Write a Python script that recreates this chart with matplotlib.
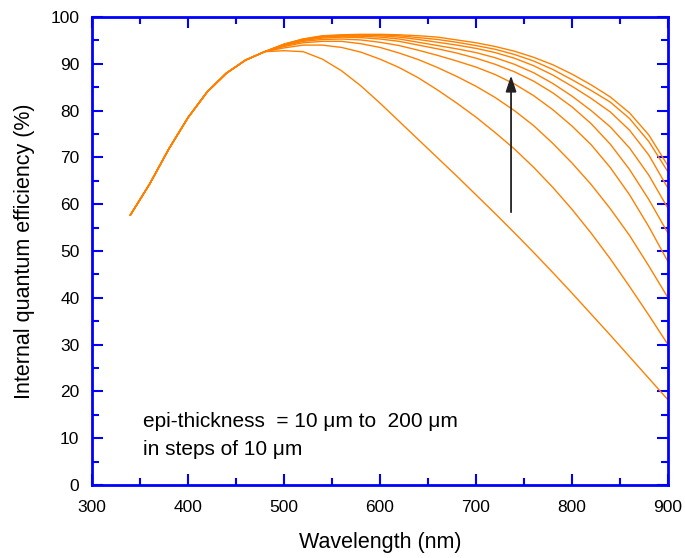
import matplotlib.pyplot as plt
import numpy as np

plt.rcParams['font.family'] = ['Liberation Sans', 'DejaVu Sans']

# wavelength grid (nm)
wavelength = [340, 360, 380, 400, 420, 440, 460, 480, 500, 520, 540, 560, 580, 600,
              620, 640, 660, 680, 700, 720, 740, 760, 780, 800, 820, 840, 860, 880, 900]

# shared short-wavelength part
rise = [57.7, 64.3, 71.8, 78.5, 84.0, 88.0, 90.8, 92.6]

# internal quantum efficiency (%) per epi-thickness, from 500 nm on
iqe_10 = [92.8, 92.6, 91.0, 88.5, 85.3, 81.6, 77.7, 73.8, 69.9, 66.0, 62.0, 58.0, 53.9,
          49.7, 45.4, 41.0, 36.5, 32.0, 27.4, 22.8, 18.2]
iqe_20 = [93.4, 94.0, 94.0, 93.5, 92.5, 91.0, 89.2, 87.0, 84.4, 81.6, 78.6, 75.3, 71.8,
          67.9, 63.6, 58.9, 53.8, 48.3, 42.4, 36.3, 30.0]
iqe_30 = [93.7, 94.5, 94.8, 94.8, 94.3, 93.5, 92.3, 90.9, 89.2, 87.3, 85.2, 82.8, 80.0,
          76.8, 73.0, 68.8, 64.2, 59.0, 53.3, 46.8, 40.0]
iqe_40 = [93.9, 94.8, 95.2, 95.3, 95.1, 94.6, 93.9, 92.9, 91.8, 90.6, 89.3, 87.7, 85.7,
          83.2, 80.2, 76.7, 72.7, 67.8, 62.0, 55.2, 47.7]
iqe_50 = [94.0, 95.0, 95.5, 95.7, 95.6, 95.3, 94.8, 94.0, 93.2, 92.3, 91.2, 89.9, 88.3,
          86.3, 83.8, 80.8, 77.2, 72.8, 67.4, 61.0, 53.8]
iqe_60 = [94.1, 95.1, 95.7, 95.9, 95.9, 95.7, 95.3, 94.6, 93.9, 93.2, 92.4, 91.3, 89.9,
          88.1, 85.8, 83.1, 80.0, 76.5, 72.0, 66.2, 59.1]
iqe_70 = [94.15, 95.2, 95.8, 96.0, 96.1, 96.0, 95.7, 95.2, 94.6, 94.0, 93.3, 92.4, 91.2,
          89.6, 87.6, 85.2, 82.6, 79.7, 75.8, 70.5, 63.4]
iqe_80 = [94.2, 95.3, 95.9, 96.1, 96.2, 96.2, 96.0, 95.6, 95.2, 94.6, 93.9, 93.1, 92.0,
          90.6, 88.8, 86.6, 84.3, 81.8, 78.3, 73.4, 66.9]
iqe_90 = [94.2, 95.3, 96.0, 96.2, 96.3, 96.3, 96.2, 96.0, 95.7, 95.1, 94.5, 93.7, 92.7,
          91.4, 89.8, 87.8, 85.5, 82.9, 79.5, 74.8, 68.2]

curves = [iqe_10, iqe_20, iqe_30, iqe_40, iqe_50, iqe_60, iqe_70, iqe_80, iqe_90]

fig = plt.figure(figsize=(6.85, 5.58), dpi=100)
ax = fig.add_axes([0.1343, 0.1308, 0.8409, 0.8387])

for c in curves:
    ax.plot(wavelength, rise + c, color='#FF8000', linewidth=1.0)

ax.annotate('', xy=(736.5, 87.5), xytext=(736.5, 58.3),
            arrowprops=dict(arrowstyle='-|>,head_length=0.6,head_width=0.2',
                            color='#222222', lw=1.3,
                            mutation_scale=16, shrinkA=0, shrinkB=0))

ax.text(353, 13.5, 'epi-thickness  = 10 \u03bcm to  200 \u03bcm', fontsize=15, va='center')
ax.text(353, 7.5, 'in steps of 10 \u03bcm', fontsize=15, va='center')

ax.set_xlim(300, 900)
ax.set_ylim(0, 100)
ax.set_xticks(np.arange(300, 901, 100))
ax.set_xticks(np.arange(350, 900, 100), minor=True)
ax.set_yticks(np.arange(0, 101, 10))
ax.set_yticks(np.arange(5, 100, 10), minor=True)

for s in ax.spines.values():
    s.set_color('#0000FF')
    s.set_linewidth(2)
ax.tick_params(which='both', direction='in', top=True, right=True, color='#0000FF',
               labelsize=12.5, width=1.5)
ax.tick_params(which='major', length=8)
ax.tick_params(which='minor', length=5)
ax.tick_params(axis='x', which='major', pad=11)
ax.tick_params(axis='y', which='major', pad=9)

ax.set_xlabel('Wavelength (nm)', fontsize=15.5, labelpad=12)
ax.set_ylabel('Internal quantum efficiency (%)', fontsize=15.5, labelpad=11)

fig.savefig('out.png', dpi=100)
